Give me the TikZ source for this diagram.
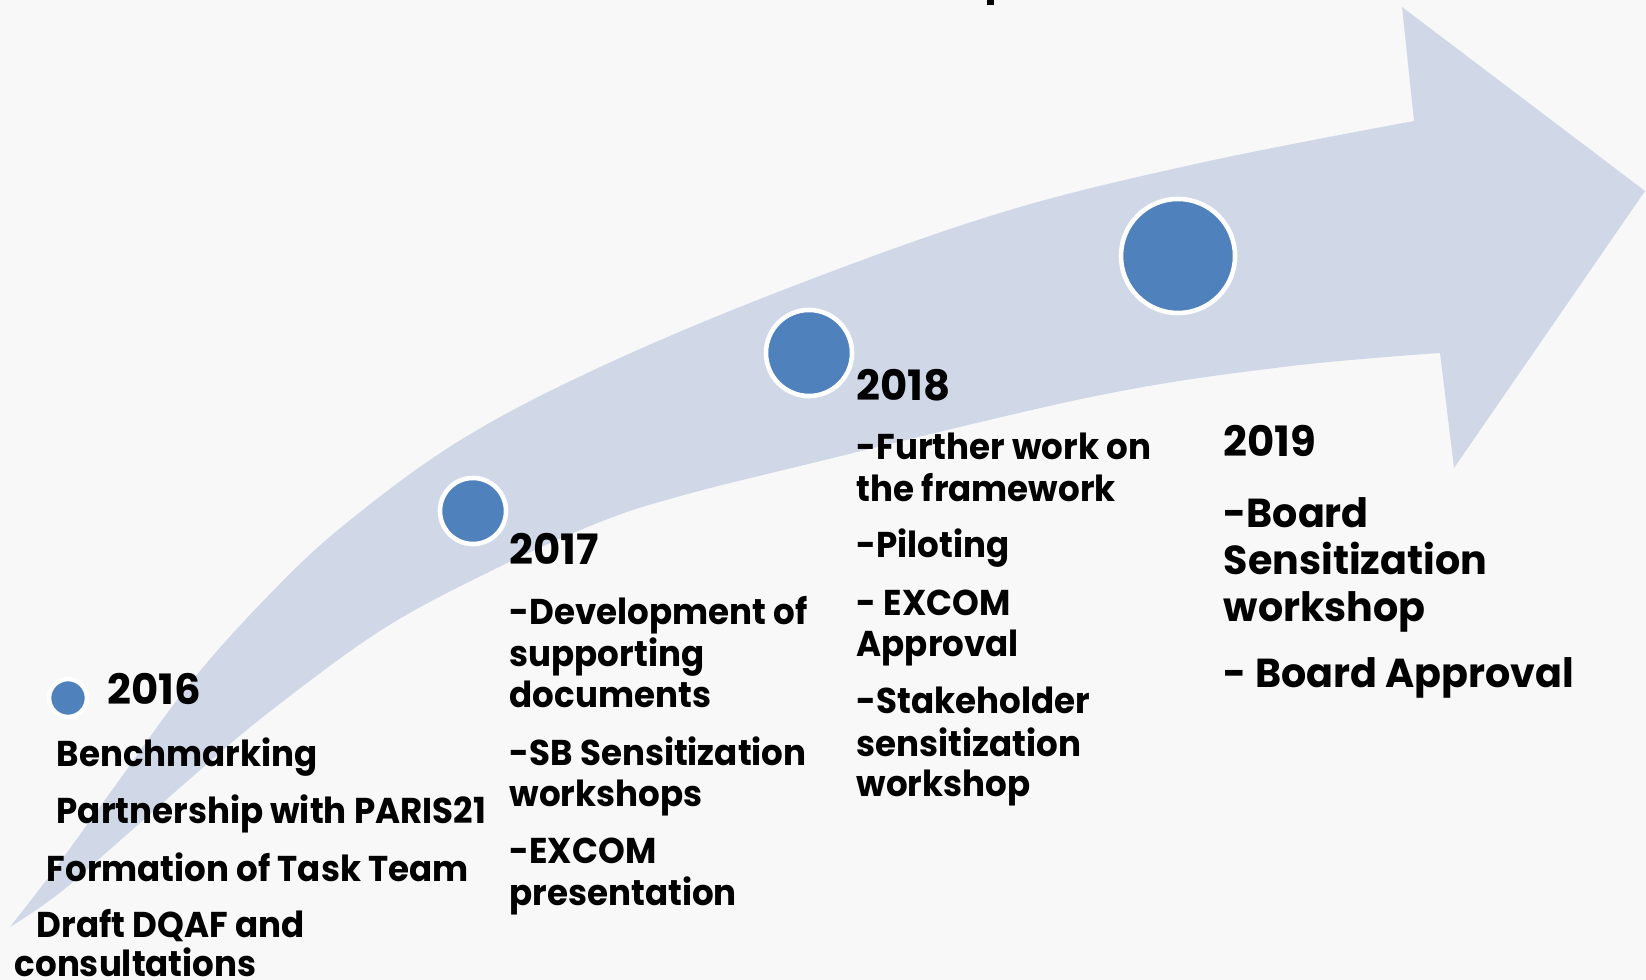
\documentclass[tikz,border=0pt]{standalone}
\usepackage{fontspec}
\setmainfont{Poppins}
\newfontfamily\narrowfont{Poppins}[FakeStretch=0.95]
\newfontfamily\bigfont{Poppins}[FakeStretch=0.98]
\usepackage{tikz}

\definecolor{pagebg}{HTML}{F8F8F8}
\definecolor{bandcol}{HTML}{D0D8E8}
\definecolor{dotcol}{HTML}{4F81BD}

\tikzset{
	dot/.style={circle, fill=dotcol, draw=white, line width=1.3pt, inner sep=0pt},
	year/.style={anchor=base west, inner sep=0pt, font=\fontsize{11.9}{13}\selectfont\bfseries},
	body/.style={anchor=base west, inner sep=0pt, font=\narrowfont\fontsize{10.2}{12}\selectfont\bfseries},
	bigbody/.style={anchor=base west, inner sep=0pt, font=\bigfont\fontsize{11.5}{13}\selectfont\bfseries}
}

\begin{document}
\begin{tikzpicture}[x=0.01cm, y=-0.01cm]
		\useasboundingbox (0,0) rectangle (1646,980);
		\fill[pagebg] (0,0) rectangle (1646,980);
		% cut off title
		\fill[black] (987,0) rectangle (994,5);
		% rising arrow
		\fill[bandcol]
			plot[smooth, tension=0.6] coordinates {(10,927) (57,866) (115,786) (191,682) (268,596) (344,525) (459,441) (598,368) (783,290) (1000,213) (1200,163) (1414,121)}
			-- (1402,7) -- (1645,191) -- (1454,468) -- (1440,353)
			-- plot[smooth, tension=0.6] coordinates {(1440,353) (1283,367) (1091,397) (796,467) (677,497) (600,522) (497,568) (383,629) (268,713) (191,778) (115,845) (57,895) (10,927)}
			-- cycle;
		% milestones
		\node[dot, minimum size=0.38cm] (c2016) at (68,698) {};
		\node[dot, minimum size=0.66cm] (c2017) at (473,511) {};
		\node[dot, minimum size=0.86cm] (c2018) at (809,353) {};
		\node[dot, minimum size=1.14cm] (c2019) at (1178,256) {};
		% years
		\node[year] (y2016) at (107,705) {2016};
		\node[year] (y2017) at (509,565) {2017};
		\node[year] (y2018) at (856,401) {2018};
		\node[year] (y2019) at (1223,457) {2019};
		% 2016
		\foreach \x/\y/\t [count=\i] in {56/766/Benchmarking, 56/823/Partnership with PARIS21, 46/881/Formation of Task Team, 36/937/Draft DQAF and, 14/976/consultations}
		{
			\node[body] (a\i) at (\x,\y) {\t};
		}
		% 2017
		\foreach \y/\t [count=\i] in {625/-Development of, 667/supporting, 708/documents, 765/-SB Sensitization, 807/workshops, 863/-EXCOM, 905/presentation}
		{
			\node[body] (b\i) at (509,\y) {\t};
		}
		% 2018
		\foreach \y/\t [count=\i] in {460/-Further work on, 502/the framework, 558/-Piloting, 616/- EXCOM, 657/Approval, 714/-Stakeholder, 756/sensitization, 797/workshop}
		{
			\node[body] (d\i) at (856,\y) {\t};
		}
		% 2019
		\foreach \y/\t [count=\i] in {528/-Board, 575/Sensitization, 622/workshop, 688/- Board Approval}
		{
			\node[bigbody] (e\i) at (1223,\y) {\t};
		}
	\end{tikzpicture}
\end{document}
